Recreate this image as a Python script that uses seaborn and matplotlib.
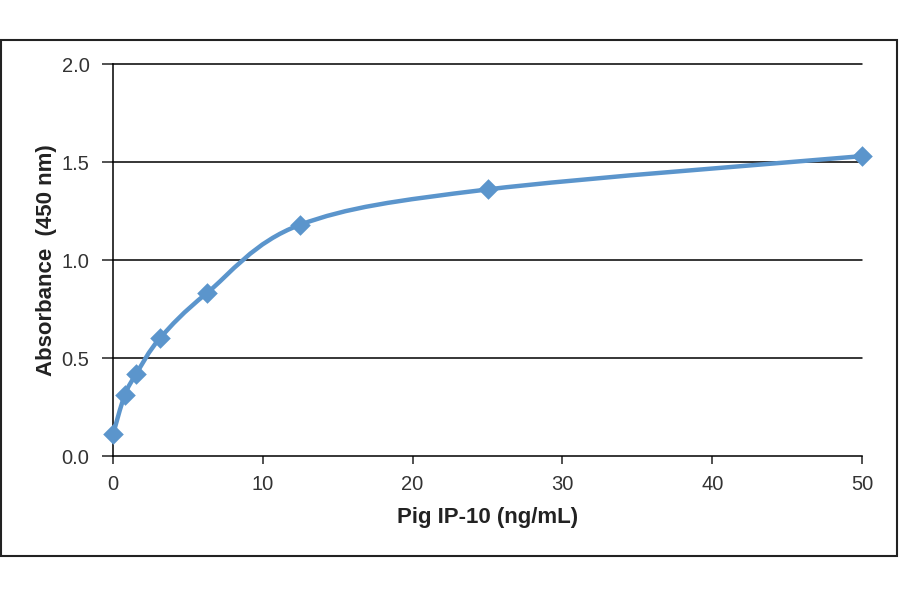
import numpy as np
import pandas as pd
import matplotlib
matplotlib.use("Agg")
import matplotlib.pyplot as plt
from matplotlib.path import Path
from matplotlib.patches import PathPatch, Rectangle
import seaborn as sns

# standard curve readings
concentration = [0, 0.78, 1.56, 3.125, 6.25, 12.5, 25, 50]
absorbance = [0.11, 0.31, 0.42, 0.60, 0.83, 1.18, 1.36, 1.53]
x_ticks = [0, 10, 20, 30, 40, 50]
y_ticks = [0.0, 0.5, 1.0, 1.5, 2.0]

LINE_COLOR = "#5B95CC"


def smooth_path(xs, ys, tension=1 / 6):
    """Bezier path through the points, like an Excel smoothed line."""
    pts = np.column_stack([xs, ys]).astype(float)
    verts = [pts[0]]
    codes = [Path.MOVETO]
    n = len(pts)
    for i in range(n - 1):
        p0 = pts[i - 1] if i > 0 else pts[i]
        p1 = pts[i]
        p2 = pts[i + 1]
        p3 = pts[i + 2] if i + 2 < n else pts[i + 1]
        c1 = p1 + (p2 - p0) * tension
        c2 = p2 - (p3 - p1) * tension
        verts += [c1, c2, p2]
        codes += [Path.CURVE4] * 3
    return Path(verts, codes)


df = pd.DataFrame({"conc": concentration, "abs": absorbance})

sns.set_style("white")
plt.rcParams["font.family"] = ["Liberation Sans", "DejaVu Sans"]

fig = plt.figure(figsize=(9, 5.94), dpi=100)
ax = fig.add_axes([113 / 900, (594 - 456) / 594, (862 - 113) / 900, (456 - 64) / 594])

for y in y_ticks[1:]:
    ax.axhline(y, color="black", lw=1.1, zorder=1, clip_on=False)

ax.add_patch(PathPatch(smooth_path(concentration, absorbance), fill=False,
                       edgecolor=LINE_COLOR, lw=3.2, capstyle="round", zorder=3))
sns.scatterplot(data=df, x="conc", y="abs", marker="D", s=110, color=LINE_COLOR,
                edgecolor=LINE_COLOR, linewidth=0, zorder=4, ax=ax, clip_on=False)

ax.set_xlim(0, 50)
ax.set_ylim(0, 2.0)
ax.set_xticks(x_ticks)
ax.set_yticks(y_ticks)
ax.set_yticklabels([f"{v:.1f}" for v in y_ticks])
ax.tick_params(axis="both", labelsize=14.5, colors="#222222", labelcolor="#333333")
ax.tick_params(axis="y", length=8, width=1.1, direction="out", left=True, pad=9)
ax.tick_params(axis="x", length=6, width=1.1, direction="out", bottom=True, pad=8)

for side in ["top", "right"]:
    ax.spines[side].set_visible(False)
for side in ["left", "bottom"]:
    ax.spines[side].set_color("black")
    ax.spines[side].set_linewidth(1.1)

ax.set_xlabel("Pig IP-10 (ng/mL)", fontsize=16, fontweight="bold", color="#222222")
ax.set_ylabel("Absorbance  (450 nm)", fontsize=16, fontweight="bold", color="#222222")
ax.xaxis.set_label_coords(0.5, -(507 - 456) / 392)
ax.yaxis.set_label_coords(-(113 - 57) / 749, 0.5)

fig.patches.append(Rectangle((1 / 900, (594 - 556) / 594), 896 / 900, 516 / 594,
                             transform=fig.transFigure, fill=False,
                             edgecolor="#222222", lw=1.5))

fig.savefig("out.png", dpi=100, facecolor="white")
